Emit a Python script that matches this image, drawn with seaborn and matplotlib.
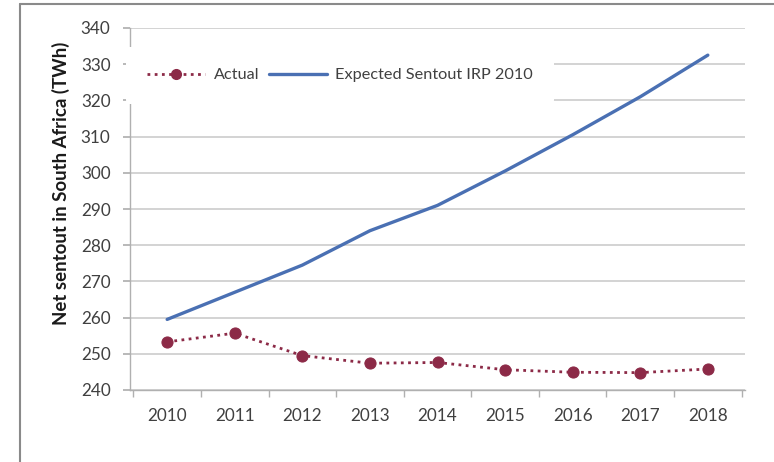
import matplotlib
matplotlib.use("Agg")
import matplotlib.pyplot as plt
from matplotlib.lines import Line2D
import seaborn as sns
import pandas as pd

years = [2010, 2011, 2012, 2013, 2014, 2015, 2016, 2017, 2018]
actual = [253.3, 255.7, 249.5, 247.4, 247.6, 245.6, 244.9, 244.8, 245.8]
expected = [259.5, 267.0, 274.5, 284.0, 291.0, 300.5, 310.5, 321.0, 332.5]
y_ticks = [240, 250, 260, 270, 280, 290, 300, 310, 320, 330, 340]
labels = ["Actual", "Expected Sentout IRP 2010"]

sns.set_theme(style="white")
plt.rcParams["font.family"] = ["Lato", "DejaVu Sans"]

RED = "#8c2a47"
BLUE = "#4a70b3"
GRID = "#c8c8c8"
TEXT = "#404040"

df = pd.DataFrame({"year": years, "actual": actual, "expected": expected})

fig = plt.figure(figsize=(7.74, 4.62), dpi=100)
ax = fig.add_axes([130 / 774, 1 - 390 / 462, 615 / 774, 362 / 462])

sns.lineplot(data=df, x="year", y="expected", ax=ax, color=BLUE, linewidth=2.4)
sns.lineplot(data=df, x="year", y="actual", ax=ax, color=RED, linewidth=2.0,
             linestyle=(0, (1, 1.6)), marker="o", markersize=8,
             markeredgecolor=RED, markerfacecolor=RED)

ax.set_xlim(years[0] - 0.55, years[-1] + 0.55)
ax.set_ylim(y_ticks[0], y_ticks[-1])
ax.set_yticks(y_ticks)
ax.set_xticks(years)
ax.set_xticklabels([str(y) for y in years])
ax.set_xticks([y + 0.5 for y in [years[0] - 1] + years], minor=True)

ax.yaxis.grid(True, color=GRID, linewidth=1.1)
ax.xaxis.grid(False)
for s in ["top", "right"]:
    ax.spines[s].set_visible(False)
for s in ["left", "bottom"]:
    ax.spines[s].set_color("#b0b0b0")
    ax.spines[s].set_linewidth(1.0)

ax.tick_params(axis="y", which="major", direction="out", length=5, color="#b0b0b0",
               labelsize=12.3, labelcolor=TEXT, pad=9, left=True)
ax.tick_params(axis="x", which="major", length=0, labelsize=12.3, labelcolor=TEXT, pad=13)
ax.tick_params(axis="x", which="minor", direction="out", length=5, color="#b0b0b0",
               bottom=True)

ax.set_xlabel("")
ax.set_ylabel("Net sentout in South Africa (TWh)", fontsize=13.4, fontweight="bold",
              color="#1a1a1a")
ax.yaxis.set_label_coords(-0.098, 0.572)

handles = [
    Line2D([], [], color=RED, linewidth=2.0, linestyle=(0, (1, 1.6)), marker="o",
           markersize=7, markerfacecolor=RED, markeredgecolor=RED),
    Line2D([], [], color=BLUE, linewidth=2.4),
]
leg = ax.legend(handles, labels, loc="upper left", bbox_to_anchor=(-0.02, 0.97),
                ncol=2, frameon=True, fontsize=11.7, handlelength=3.6,
                columnspacing=0.6, handletextpad=0.5, borderpad=1.3)
leg.get_frame().set_facecolor("white")
leg.get_frame().set_edgecolor("none")
leg.get_frame().set_alpha(1.0)
for t in leg.get_texts():
    t.set_color(TEXT)

# chart frame
fig.add_artist(Line2D([20 / 774, 20 / 774], [0, 1 - 4 / 462], transform=fig.transFigure,
                      color="#8a8a8a", linewidth=1.5))
fig.add_artist(Line2D([20 / 774, 1], [1 - 4 / 462, 1 - 4 / 462], transform=fig.transFigure,
                      color="#8a8a8a", linewidth=1.5))

fig.savefig("out.png", dpi=100, facecolor="white")
